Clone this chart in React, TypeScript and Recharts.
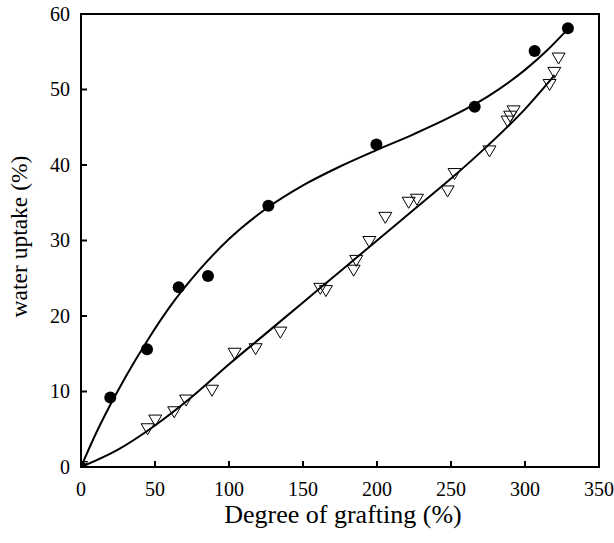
import React from "react";
import { ComposedChart, XAxis, YAxis, Scatter, Line, ReferenceArea } from "recharts";

// Filled circles series
const circleX = [0, 19.8, 44.6, 66, 85.8, 126.6, 199.6, 266, 306.5, 329];
const circleY = [0, 9.2, 15.6, 23.8, 25.3, 34.6, 42.7, 47.7, 55.1, 58.1];

// Open down-triangle series
const triX = [0, 45, 50.2, 63, 71, 88.5, 103.8, 118, 134.7, 161.7, 165.5, 184.2, 186, 194.8, 205.6, 221.4, 227, 247.7, 252.4, 276, 288.2, 290, 292.3, 316.6, 319.8, 322.7];
const triY = [0, 5.0, 6.15, 7.25, 8.8, 10.1, 15.0, 15.6, 17.8, 23.6, 23.3, 26.0, 27.3, 29.8, 33.0, 35.0, 35.4, 36.5, 38.8, 41.8, 45.75, 46.4, 47.1, 50.6, 52.2, 54.1];

// Fitted curve through circles
const fitAX = [0, 10, 20, 30, 45, 60, 80, 100, 125, 150, 175, 200, 225, 250, 275, 300, 315, 329];
const fitAY = [0, 4.4, 8.3, 11.9, 16.8, 21.2, 26.1, 30.2, 34.2, 37.3, 39.8, 42.0, 44.1, 46.4, 49.1, 52.6, 55.2, 58.0];

// Fitted curve through triangles
const fitBX = [0, 25, 50, 75, 100, 125, 150, 175, 200, 225, 250, 275, 300, 320];
const fitBY = [0, 2.3, 5.5, 9.3, 13.6, 17.7, 21.8, 25.9, 30.0, 34.1, 38.2, 42.6, 47.4, 51.9];

const xTicks = [0, 50, 100, 150, 200, 250, 300, 350];
const yTicks = [0, 10, 20, 30, 40, 50, 60];

const zip = (xs: number[], ys: number[]) => xs.map((x, i) => ({ x, y: ys[i] }));
const circles = zip(circleX, circleY);
const triangles = zip(triX, triY);
const fitA = zip(fitAX, fitAY);
const fitB = zip(fitBX, fitBY);

const FONT = "Liberation Serif, Times New Roman, DejaVu Serif, serif";

const XTick = (props: any) => {
  const { x, y, payload } = props;
  return (
    <g>
      <line x1={x} x2={x} y1={y} y2={y - 6} stroke="#000" strokeWidth={2} />
      <text x={x} y={y + 29} textAnchor="middle" style={{ fontSize: 20, fontFamily: FONT }} fill="#000">
        {payload.value}
      </text>
    </g>
  );
};

const YTick = (props: any) => {
  const { x, y, payload } = props;
  return (
    <g>
      <line x1={x} x2={x + 6} y1={y} y2={y} stroke="#000" strokeWidth={2} />
      <text x={x - 11} y={y} dy="0.34em" textAnchor="end" style={{ fontSize: 20, fontFamily: FONT }} fill="#000">
        {payload.value}
      </text>
    </g>
  );
};

const Circle = (props: any) => {
  const { cx, cy } = props;
  return <circle cx={cx} cy={cy} r={6} fill="#000" />;
};

const Tri = (props: any) => {
  const { cx, cy } = props;
  const pts = `${cx - 6.5},${cy - 5.5} ${cx + 6.5},${cy - 5.5} ${cx},${cy + 5.5}`;
  return <polygon points={pts} fill="none" stroke="#000" strokeWidth={1} />;
};

const XLabel = (props: any) => {
  const vb = props.viewBox || {};
  const cx = (vb.x || 0) + (vb.width || 0) / 2;
  return (
    <text x={cx + 3} y={523} textAnchor="middle" style={{ fontSize: 26, fontFamily: FONT }} fill="#000">
      Degree of grafting (%)
    </text>
  );
};

const YLabel = () => (
  <text
    x={27}
    y={236.5}
    transform="rotate(-90 27 236.5)"
    textAnchor="middle"
    style={{ fontSize: 23.5, fontFamily: FONT }}
    fill="#000"
  >
    water uptake (%)
  </text>
);

export default function App() {
  return (
    <div style={{ position: "absolute", left: 0, top: 0, background: "#fff", fontFamily: FONT }}>
      <ComposedChart width={614} height={543} margin={{ top: 14, right: 15, left: 0, bottom: 0 }}>
        <XAxis
          dataKey="x"
          type="number"
          domain={[0, 350]}
          ticks={xTicks}
          interval={0}
          tickSize={0}
          tickMargin={0}
          tick={<XTick />}
          axisLine={{ stroke: "#000", strokeWidth: 2 }}
          tickLine={false}
          height={76}
          allowDataOverflow
          label={<XLabel />}
        />
        <YAxis
          dataKey="y"
          type="number"
          domain={[0, 60]}
          ticks={yTicks}
          interval={0}
          tickSize={0}
          tickMargin={0}
          tick={<YTick />}
          axisLine={{ stroke: "#000", strokeWidth: 2 }}
          tickLine={false}
          width={81}
          allowDataOverflow
          label={<YLabel />}
        />
        <ReferenceArea x1={0} x2={350} y1={0} y2={60} fill="none" stroke="#000" strokeWidth={2} fillOpacity={0} />
        <Line data={fitA} dataKey="y" type="monotone" stroke="#000" strokeWidth={2} dot={false} activeDot={false} isAnimationActive={false} />
        <Line data={fitB} dataKey="y" type="monotone" stroke="#000" strokeWidth={2} dot={false} activeDot={false} isAnimationActive={false} />
        <Scatter data={circles} dataKey="y" shape={<Circle />} isAnimationActive={false} />
        <Scatter data={triangles} dataKey="y" shape={<Tri />} isAnimationActive={false} />
      </ComposedChart>
    </div>
  );
}
